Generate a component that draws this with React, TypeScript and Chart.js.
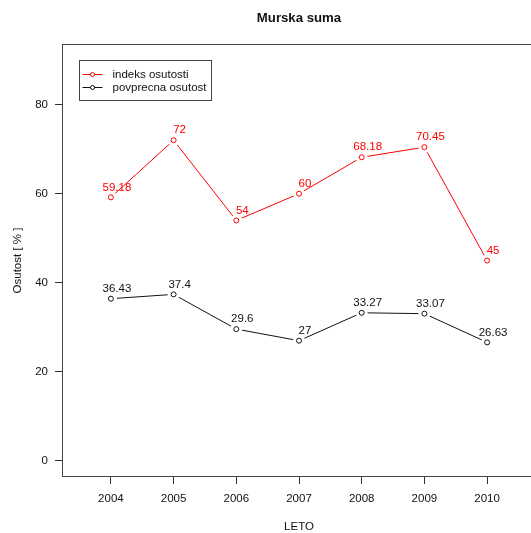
import React, { useEffect, useRef } from "react";
import { Chart, registerables } from "chart.js";

Chart.register(...registerables);

const years = [2004, 2005, 2006, 2007, 2008, 2009, 2010];
const indeksOsutosti = [59.18, 72, 54, 60, 68.18, 70.45, 45];
const povprecnaOsutost = [36.43, 37.4, 29.6, 27, 33.27, 33.07, 26.63];
const seriesNames = ["indeks osutosti", "povprecna osutost"];
const seriesValues = [indeksOsutosti, povprecnaOsutost];
const seriesColors = ["#ff0000", "#111111"];
const yTicks = [0, 20, 40, 60, 80];
const titleText = "Murska suma";
const xTitle = "LETO";
const yTitle = "Osutost [ % ]";

const FONT = "'Liberation Sans', Arial, Helvetica, sans-serif";
const FS = 11.5;

const rStylePlugin = {
  id: "rstyle",
  afterDatasetsDraw(chart: any) {
    const ctx = chart.ctx;
    chart.data.datasets.forEach((ds: any, di: number) => {
      const meta = chart.getDatasetMeta(di);
      const color = seriesColors[di];
      const vals = seriesValues[di];
      meta.data.forEach((pt: any, i: number) => {
        const { x, y } = pt.getProps(["x", "y"], true);
        ctx.save();
        ctx.fillStyle = "#ffffff";
        ctx.beginPath();
        ctx.arc(x, y, 6, 0, Math.PI * 2);
        ctx.fill();
        ctx.strokeStyle = color;
        ctx.lineWidth = 1;
        ctx.beginPath();
        ctx.arc(x, y, 2.5, 0, Math.PI * 2);
        ctx.stroke();
        ctx.fillStyle = color;
        ctx.font = `${FS}px ${FONT}`;
        ctx.textAlign = "center";
        ctx.textBaseline = "middle";
        ctx.fillText(String(vals[i]), x + 6, y - 10);
        ctx.restore();
      });
    });
  },
  afterDraw(chart: any) {
    const ctx = chart.ctx;
    const { left, top, right, bottom } = chart.chartArea;
    const l = Math.round(left) + 0.5;
    const t = Math.round(top) + 0.5;
    const r = Math.round(right) - 0.5;
    const b = Math.round(bottom) - 0.5;
    ctx.save();
    ctx.strokeStyle = "#444444";
    ctx.lineWidth = 1;
    ctx.strokeRect(l, t, r - l, b - t);

    // legend
    const lx = l + 17;
    const ly = t + 16;
    ctx.strokeRect(lx, ly, 132, 40);
    ctx.font = `${FS}px ${FONT}`;
    ctx.textAlign = "left";
    ctx.textBaseline = "middle";
    seriesNames.forEach((name, i) => {
      const y = ly + 14 + i * 13;
      ctx.strokeStyle = seriesColors[i];
      ctx.beginPath();
      ctx.moveTo(lx + 3, y);
      ctx.lineTo(lx + 23, y);
      ctx.stroke();
      ctx.fillStyle = "#ffffff";
      ctx.beginPath();
      ctx.arc(lx + 13, y, 2, 0, Math.PI * 2);
      ctx.fill();
      ctx.stroke();
      ctx.fillStyle = "#111111";
      ctx.fillText(name, lx + 33, y + 0.5);
    });
    ctx.restore();
  },
};

export default function App() {
  const ref = useRef<HTMLCanvasElement | null>(null);

  useEffect(() => {
    if (!ref.current) return;
    const chart = new Chart(ref.current, {
      type: "line",
      data: {
        datasets: seriesNames.map((name, i) => ({
          label: name,
          data: years.map((x, j) => ({ x, y: seriesValues[i][j] })),
          borderColor: seriesColors[i],
          backgroundColor: seriesColors[i],
          borderWidth: 1,
          pointRadius: 0,
          tension: 0,
          fill: false,
        })),
      },
      options: {
        responsive: false,
        animation: false,
        devicePixelRatio: 1,
        layout: { padding: 0 },
        events: [],
        plugins: {
          legend: { display: false },
          tooltip: { enabled: false },
          title: {
            display: true,
            text: titleText,
            color: "#111111",
            font: { family: FONT, size: 13.2, weight: "bold", lineHeight: 1.2 },
            padding: { top: 10, bottom: 18.2 },
          },
        },
        scales: {
          x: {
            type: "linear",
            position: "bottom",
            min: 2003.22,
            max: 2010.78,
            afterBuildTicks: (s: any) => {
              s.ticks = years.map((v) => ({ value: v }));
            },
            afterFit: (s: any) => {
              s.height = 56;
            },
            grid: { drawOnChartArea: false, drawTicks: true, tickLength: 7, color: "#333333" },
            border: { display: false },
            ticks: {
              color: "#111111",
              font: { family: FONT, size: FS },
              padding: 8,
              maxRotation: 0,
              autoSkip: false,
              callback: (v: any) => String(v),
            },
            title: {
              display: true,
              text: xTitle,
              color: "#111111",
              font: { family: FONT, size: FS, lineHeight: 1 },
              padding: { top: 0, bottom: 0 },
            },
          },
          y: {
            type: "linear",
            position: "left",
            min: -3.6,
            max: 93.6,
            afterBuildTicks: (s: any) => {
              s.ticks = yTicks.map((v) => ({ value: v }));
            },
            afterFit: (s: any) => {
              s.width = 62;
            },
            grid: { drawOnChartArea: false, drawTicks: true, tickLength: 7, color: "#333333" },
            border: { display: false },
            ticks: {
              color: "#111111",
              font: { family: FONT, size: FS },
              padding: 7,
              callback: (v: any) => String(v),
            },
            title: {
              display: true,
              text: yTitle,
              color: "#111111",
              font: { family: FONT, size: FS, lineHeight: 1.2 },
              padding: { top: 10.6, bottom: 0 },
            },
          },
          y2: {
            type: "linear",
            position: "right",
            display: true,
            afterFit: (s: any) => {
              s.width = 62;
            },
            grid: { display: false },
            ticks: { display: false },
            border: { display: false },
          },
        },
      },
      plugins: [rStylePlugin],
    } as any);
    return () => chart.destroy();
  }, []);

  return (
    <div
      style={{
        position: "fixed",
        left: 0,
        top: 0,
        width: 531,
        height: 533,
        overflow: "hidden",
        background: "#ffffff",
      }}
    >
      <canvas ref={ref} width={598} height={533} style={{ display: "block" }} />
    </div>
  );
}
